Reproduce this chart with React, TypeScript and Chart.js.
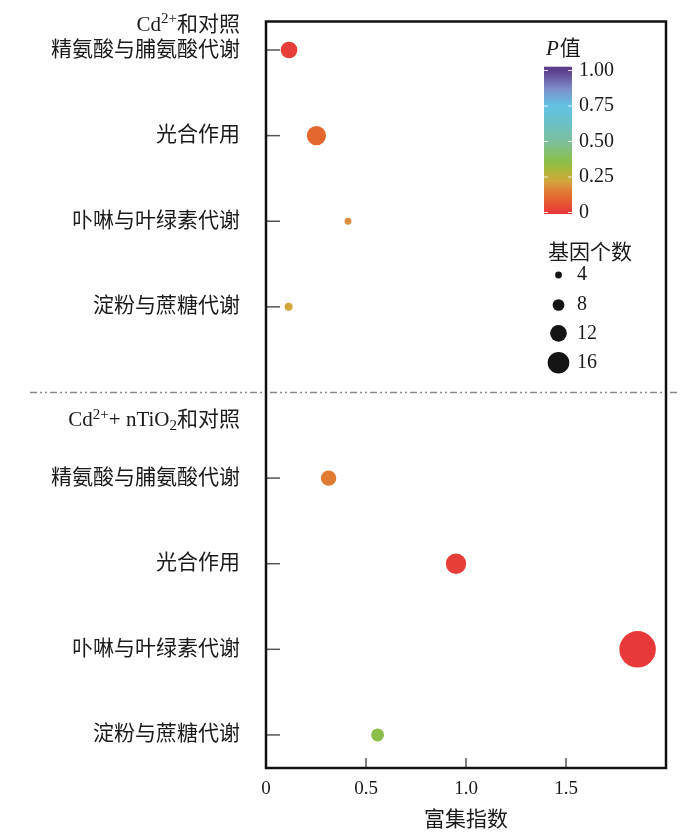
import React, { useEffect, useRef } from "react";
import { Chart, registerables } from "chart.js";
Chart.register(...registerables);

// ---- data ----
const yLabels = [
  "精氨酸与脯氨酸代谢",
  "光合作用",
  "卟啉与叶绿素代谢",
  "淀粉与蔗糖代谢",
  "精氨酸与脯氨酸代谢",
  "光合作用",
  "卟啉与叶绿素代谢",
  "淀粉与蔗糖代谢",
];
const rowIndex = [0, 1, 2, 3, 5, 6, 7, 8];
const enrichment = [0.115, 0.252, 0.41, 0.113, 0.313, 0.95, 1.858, 0.558];
const geneCount = [12, 14, 4, 5, 11, 15, 28, 9];
const pValue = [0.01, 0.1, 0.18, 0.22, 0.15, 0.01, 0.0, 0.36];
const xTicks = [0, 0.5, 1.0, 1.5];
const pTicks = [0, 0.25, 0.5, 0.75, 1.0];
const pTickLabels = ["0", "0.25", "0.50", "0.75", "1.00"];
const sizeLegend = [4, 8, 12, 16];
const separatorRow = 4;
const xTitle = "富集指数";
const pTitle = "值";
const sizeTitle = "基因个数";

// ---- styles ----
const stopPos = [0, 0.1, 0.15, 0.18, 0.22, 0.3, 0.36, 0.5, 0.62, 0.75, 0.87, 1.0];
const stopHex = [
  "#E8393A", "#E4672F", "#DF7B33", "#DB8E3D", "#D3A63C", "#A8B83A",
  "#8BBF4A", "#7DBF9C", "#6CC0C4", "#62C3E2", "#7D8ECC", "#5D3E8C",
];
const SERIF = '"Liberation Serif", "Noto Sans CJK SC", serif';

function hexToRgb(h: string) {
  const n = parseInt(h.slice(1), 16);
  return [(n >> 16) & 255, (n >> 8) & 255, n & 255];
}
function pColor(p: number) {
  for (let i = 0; i < stopPos.length - 1; i++) {
    if (p <= stopPos[i + 1]) {
      const t = (p - stopPos[i]) / (stopPos[i + 1] - stopPos[i]);
      const a = hexToRgb(stopHex[i]);
      const b = hexToRgb(stopHex[i + 1]);
      const c = a.map((v, k) => Math.round(v + (b[k] - v) * t));
      return `rgb(${c[0]},${c[1]},${c[2]})`;
    }
  }
  return stopHex[stopHex.length - 1];
}
function radius(n: number) {
  return 0.62 * n + 0.9;
}

type Seg = { t: string; size: number; dy?: number; italic?: boolean };
const header1: Seg[] = [
  { t: "Cd", size: 21 },
  { t: "2+", size: 15, dy: -6 },
  { t: "和对照", size: 21 },
];
const header2: Seg[] = [
  { t: "Cd", size: 21 },
  { t: "2+", size: 15, dy: -6 },
  { t: "+ nTiO", size: 21 },
  { t: "2", size: 15, dy: 5 },
  { t: "和对照", size: 21 },
];

function drawRich(ctx: CanvasRenderingContext2D, segs: Seg[], rightX: number, y: number) {
  ctx.textBaseline = "middle";
  ctx.textAlign = "left";
  const widths = segs.map((s) => {
    ctx.font = `${s.italic ? "italic " : ""}${s.size}px ${SERIF}`;
    return ctx.measureText(s.t).width;
  });
  let x = rightX - widths.reduce((a, b) => a + b, 0);
  segs.forEach((s, i) => {
    ctx.font = `${s.italic ? "italic " : ""}${s.size}px ${SERIF}`;
    ctx.fillText(s.t, x, y + (s.dy || 0));
    x += widths[i];
  });
}

const overlay = {
  id: "overlay",
  beforeDatasetsDraw(chart: any) {
    const { ctx, scales } = chart;
    const ys = scales.y.getPixelForValue(separatorRow);
    ctx.save();
    ctx.strokeStyle = "#8a8a8a";
    ctx.lineWidth = 1.3;
    ctx.setLineDash([7, 3, 2, 3, 2, 3]);
    ctx.beginPath();
    ctx.moveTo(30, ys);
    ctx.lineTo(677, ys);
    ctx.stroke();
    ctx.restore();
  },
  afterDraw(chart: any) {
    const { ctx, chartArea, scales } = chart;
    const { left, right, top, bottom } = chartArea;
    const x = scales.x;
    const y = scales.y;
    ctx.save();
    // inward ticks
    ctx.strokeStyle = "#555";
    ctx.lineWidth = 1.5;
    rowIndex.forEach((r) => {
      const py = y.getPixelForValue(r);
      ctx.beginPath();
      ctx.moveTo(left, py);
      ctx.lineTo(left + 14, py);
      ctx.stroke();
    });
    xTicks.forEach((v) => {
      if (v === 0) return;
      const px = x.getPixelForValue(v);
      ctx.beginPath();
      ctx.moveTo(px, bottom);
      ctx.lineTo(px, bottom - 10);
      ctx.stroke();
    });
    // frame
    ctx.strokeStyle = "#111";
    ctx.lineWidth = 2.5;
    ctx.strokeRect(left, top, right - left, bottom - top);

    // group headers
    ctx.fillStyle = "#1a1a1a";
    drawRich(ctx, header1, 240, y.getPixelForValue(rowIndex[0]) - 25);
    drawRich(ctx, header2, 240, y.getPixelForValue(rowIndex[4]) - 57.5);

    // x title
    ctx.font = `21px ${SERIF}`;
    ctx.textAlign = "center";
    ctx.textBaseline = "middle";
    ctx.fillText(xTitle, (left + right) / 2, 820);

    // P value colour bar
    ctx.textAlign = "left";
    ctx.font = `italic 21px ${SERIF}`;
    ctx.fillText("P", 546, 49.5);
    const pw = ctx.measureText("P").width;
    ctx.font = `21px ${SERIF}`;
    ctx.fillText(pTitle, 546 + pw + 1, 49.5);

    const y0 = 212.5;
    const y1 = 70.5;
    const grad = ctx.createLinearGradient(0, y0, 0, y1);
    stopPos.forEach((p, i) => grad.addColorStop(p, stopHex[i]));
    ctx.fillStyle = grad;
    ctx.fillRect(544, 66.7, 28, 214 - 66.7);
    ctx.strokeStyle = "rgba(255,255,255,0.85)";
    ctx.lineWidth = 1;
    pTicks.forEach((p) => {
      const py = y0 + (y1 - y0) * p;
      ctx.beginPath();
      ctx.moveTo(544, py);
      ctx.lineTo(548, py);
      ctx.moveTo(568, py);
      ctx.lineTo(572, py);
      ctx.stroke();
    });
    ctx.fillStyle = "#1a1a1a";
    ctx.font = `20px ${SERIF}`;
    pTicks.forEach((p, i) => {
      const py = y0 + (y1 - y0) * p;
      ctx.fillText(pTickLabels[i], 579, py);
    });

    // size legend
    ctx.font = `21px ${SERIF}`;
    ctx.fillText(sizeTitle, 548, 253);
    const sy = [275, 305, 333.3, 362.7];
    sizeLegend.forEach((n, i) => {
      ctx.fillStyle = "#141414";
      ctx.beginPath();
      ctx.arc(558.5, sy[i], radius(n), 0, Math.PI * 2);
      ctx.fill();
      ctx.fillStyle = "#1a1a1a";
      ctx.font = `20px ${SERIF}`;
      ctx.fillText(String(n), 577, sy[i]);
    });
    ctx.restore();
  },
};

export default function App() {
  const ref = useRef<HTMLCanvasElement | null>(null);
  useEffect(() => {
    if (!ref.current) return;
    const data = enrichment.map((v, i) => ({ x: v, y: rowIndex[i], r: radius(geneCount[i]) }));
    const chart = new Chart(ref.current, {
      type: "bubble",
      data: {
        datasets: [
          {
            data,
            backgroundColor: pValue.map(pColor),
            borderWidth: 0,
          } as any,
        ],
      },
      options: {
        responsive: false,
        animation: false,
        layout: { padding: { left: 0, right: 34, top: 21.5, bottom: 0 } },
        plugins: { legend: { display: false }, tooltip: { enabled: false } },
        scales: {
          x: {
            type: "linear",
            min: 0,
            max: 2,
            grid: { display: false, drawTicks: false },
            border: { display: false },
            afterBuildTicks: (s: any) => {
              s.ticks = xTicks.map((v) => ({ value: v }));
            },
            afterFit: (s: any) => {
              s.height = 72;
              s.paddingLeft = 0;
              s.paddingRight = 0;
            },
            ticks: {
              autoSkip: false,
              maxRotation: 0,
              padding: 10,
              color: "#1a1a1a",
              font: { family: SERIF, size: 19 },
              callback: (v: any) => (Number(v) === 0 ? "0" : Number(v).toFixed(1)),
            },
          },
          y: {
            type: "linear",
            reverse: true,
            min: -0.333,
            max: 8.386,
            grid: { display: false, drawTicks: false },
            border: { display: false },
            afterBuildTicks: (s: any) => {
              s.ticks = rowIndex.map((v) => ({ value: v }));
            },
            afterFit: (s: any) => {
              s.width = 266;
              s.paddingTop = 0;
              s.paddingBottom = 0;
            },
            ticks: {
              autoSkip: false,
              padding: 26,
              color: "#1a1a1a",
              font: { family: SERIF, size: 21 },
              callback: (_v: any, i: number) => yLabels[i],
            },
          },
        },
      } as any,
      plugins: [overlay],
    });
    return () => chart.destroy();
  }, []);
  return (
    <div style={{ position: "absolute", left: 0, top: 0, width: 700, height: 840, background: "#fff" }}>
      <canvas ref={ref} width={700} height={840} style={{ display: "block" }} />
    </div>
  );
}
